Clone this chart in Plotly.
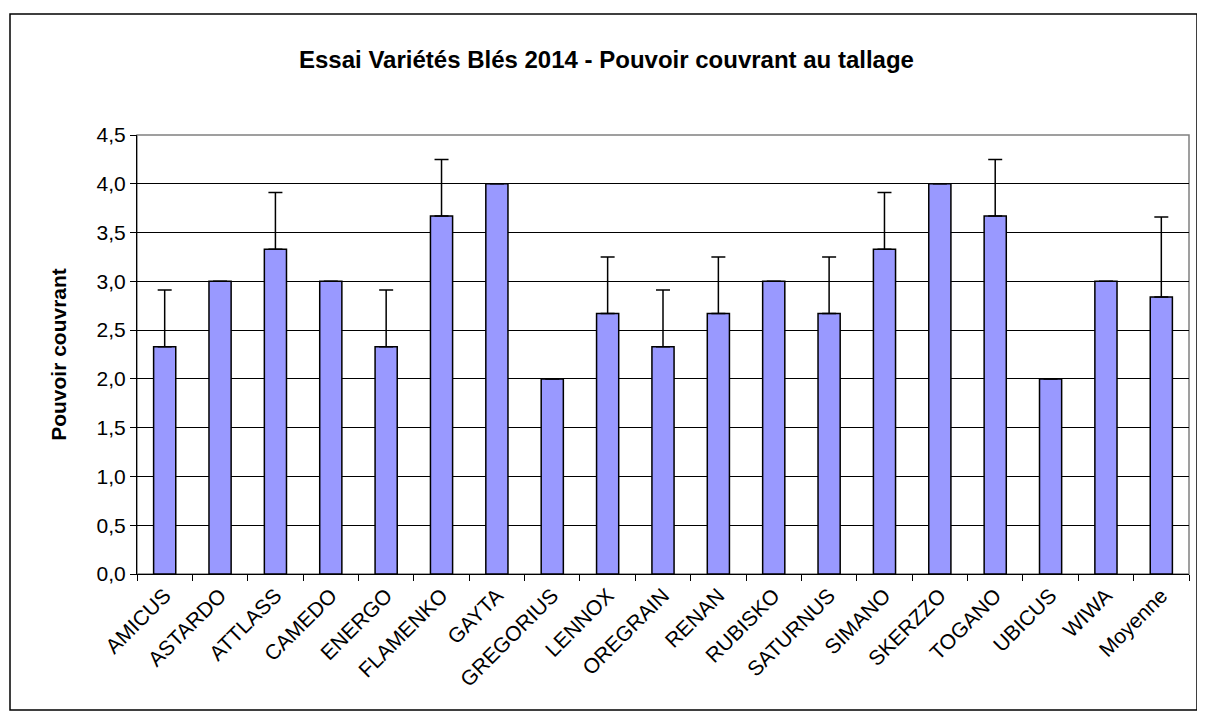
import plotly.graph_objects as go

categories = ["AMICUS", "ASTARDO", "ATTLASS", "CAMEDO", "ENERGO", "FLAMENKO", "GAYTA",
              "GREGORIUS", "LENNOX", "OREGRAIN", "RENAN", "RUBISKO", "SATURNUS", "SIMANO",
              "SKERZZO", "TOGANO", "UBICUS", "WIWA", "Moyenne"]
values = [2.33, 3.0, 3.33, 3.0, 2.33, 3.67, 4.0, 2.0, 2.67, 2.33, 2.67, 3.0, 2.67, 3.33,
          4.0, 3.67, 2.0, 3.0, 2.84]
errors = [0.58, 0.0, 0.58, 0.0, 0.58, 0.58, 0.0, 0.0, 0.58, 0.58, 0.58, 0.0, 0.58, 0.58,
          0.0, 0.58, 0.0, 0.0, 0.82]
y_ticks = [0, 0.5, 1, 1.5, 2, 2.5, 3, 3.5, 4, 4.5]
y_tick_labels = ["0,0", "0,5", "1,0", "1,5", "2,0", "2,5", "3,0", "3,5", "4,0", "4,5"]

font = "Liberation Sans, Arial, sans-serif"

# page has an 8px body margin; figure sized to fit the 1205x720 window
W, H = 1197, 704
L, T, R = 129, 127, 16
B = H - T - 439

fig = go.Figure()
fig.add_trace(go.Bar(
    x=categories, y=values,
    marker=dict(color="#9999FF", line=dict(color="black", width=1.5)),
    error_y=dict(type="data", array=errors, arrayminus=[0] * len(errors), symmetric=False,
                 color="black", thickness=1.5, width=7),
))

fig.update_layout(
    width=W, height=H,
    margin=dict(l=L, r=R, t=T, b=B),
    paper_bgcolor="white", plot_bgcolor="white",
    bargap=0.6,
    showlegend=False,
    title=dict(text="<b>Essai Variétés Blés 2014 - Pouvoir couvrant au tallage</b>",
               x=0.5, xanchor="center", y=1 - 52 / H, yanchor="middle",
               font=dict(family=font, size=24, color="black")),
    font=dict(family=font, size=20, color="black"),
    xaxis=dict(
        tickangle=-45, ticks="outside", ticklen=6, tickcolor="black",
        tickson="boundaries", showline=True, linecolor="black", linewidth=1,
        tickfont=dict(family=font, size=21, color="black"),
        range=[-0.5, len(categories) - 0.5],
    ),
    yaxis=dict(
        range=[0, 4.5], tickvals=y_ticks, ticktext=y_tick_labels,
        ticks="outside", ticklen=6, tickcolor="black",
        showline=True, linecolor="black", linewidth=1,
        showgrid=True, gridcolor="#000000", gridwidth=1,
        tickfont=dict(family=font, size=21, color="black"),
        title=dict(text="<b>Pouvoir couvrant</b>", font=dict(family=font, size=21, color="black"),
                   standoff=24),
        zeroline=False,
    ),
    shapes=[
        dict(type="rect", xref="paper", yref="paper", x0=0, x1=1, y0=0, y1=1,
             line=dict(color="#808080", width=1.5), layer="below"),
        dict(type="rect", xref="paper", yref="paper",
             x0=(10 - 137) / 1052, x1=(1197 - 137) / 1052,
             y0=(574 - 710) / 439, y1=(574 - 14) / 439,
             line=dict(color="black", width=1.5)),
    ],
)

fig.write_html("out.html")
